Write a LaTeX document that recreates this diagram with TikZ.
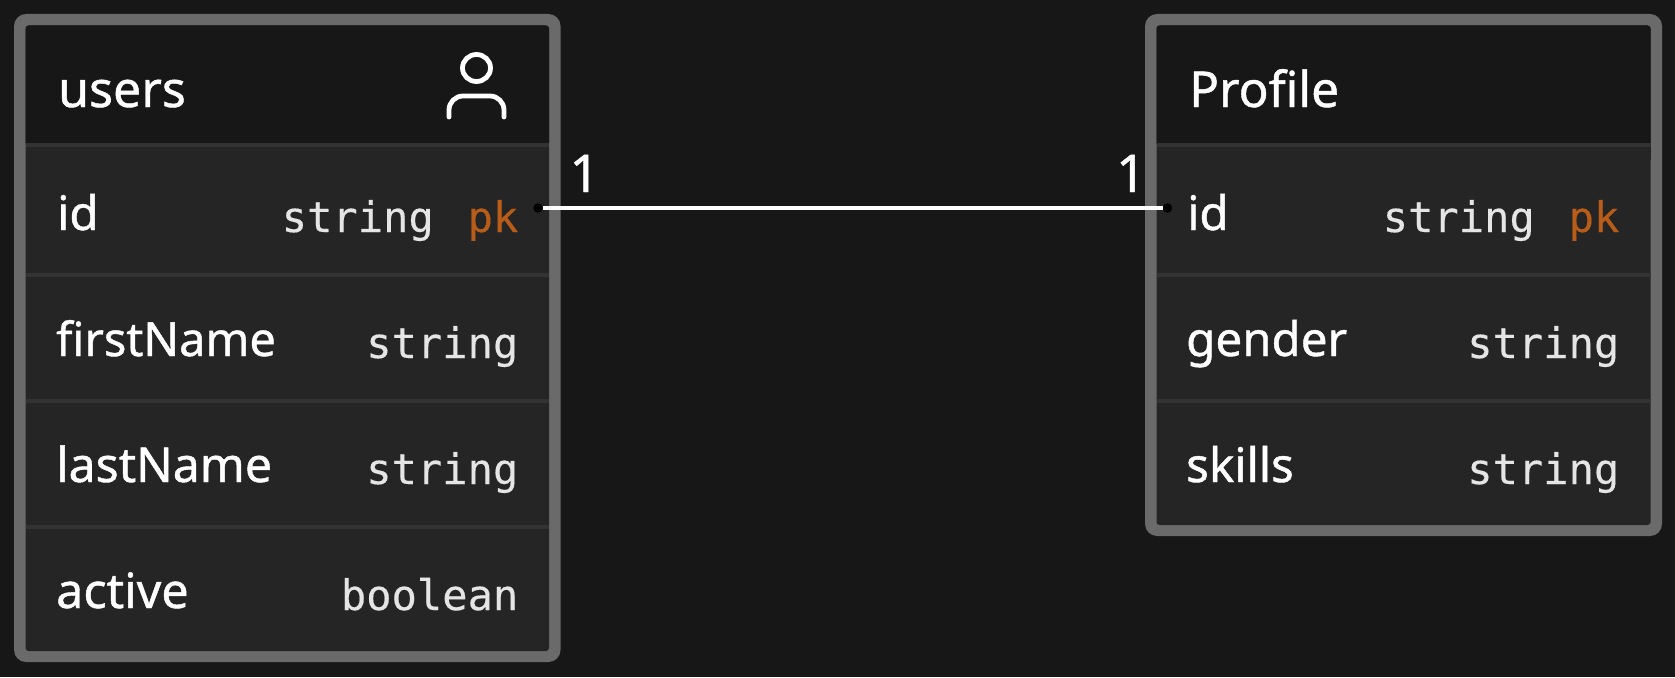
\documentclass[tikz,border=0pt]{standalone}
\usepackage{fontspec}
\setmainfont{Noto Sans}
\newfontfamily\namef[FakeBold=0.9]{Noto Sans}
\newfontfamily\monof[FakeBold=0.3]{DejaVu Sans Mono}
\definecolor{bgc}{HTML}{171717}
\definecolor{rowc}{HTML}{252525}
\definecolor{sepc}{HTML}{333333}
\definecolor{borderc}{HTML}{6A6A6A}
\definecolor{typec}{HTML}{E5E5E5}
\definecolor{pkc}{HTML}{B85C1A}
\tikzset{
  x=1pt,y=-1pt,
  namelbl/.style={anchor=base west,inner sep=0pt,text=white,font=\namef\fontsize{47.5}{48}\selectfont},
  namewide/.style={namelbl,font=\namef\fontsize{#1}{48}\selectfont},
  titlelbl/.style={namelbl,font=\namef\fontsize{50}{50}\selectfont},
  typelbl/.style={anchor=base east,inner sep=0pt,text=typec,font=\monof\fontsize{42.1}{42}\selectfont},
  pklbl/.style={typelbl,text=pkc},
  numlbl/.style={anchor=base,inner sep=0pt,text=white,font=\namef\fontsize{52}{52}\selectfont},
  outerbox/.style={fill=borderc,rounded corners=12pt},
  innerbox/.style={fill=rowc,rounded corners=3pt},
  headbox/.style={fill=bgc,rounded corners=3pt},
  sepline/.style={draw=sepc,line width=4pt},
  dotnode/.style={circle,fill=black,minimum size=9.5pt,inner sep=0pt},
  relline/.style={draw=white,line width=4pt},
  icon/.style={draw=white,line width=4.8pt,line cap=round}
}
\begin{document}
\begin{tikzpicture}
\useasboundingbox (0,0) rectangle (1675,677);
\fill[bgc] (0,0) rectangle (1675,677);
% left table
\fill[outerbox] (14,14) rectangle (560.5,662);
\fill[innerbox] (25.5,25.5) rectangle (549,651);
\fill[headbox] (25.5,25.5) rectangle (549,146);
\fill[rowc] (25.5,146) rectangle (549,160);
\draw[sepline] (25.5,145) -- (549,145);
\draw[sepline] (25.5,275) -- (549,275);
\draw[sepline] (25.5,401) -- (549,401);
\draw[sepline] (25.5,527) -- (549,527);
% right table
\fill[outerbox] (1145,14) rectangle (1662,536);
\fill[innerbox] (1156.5,25.5) rectangle (1650.5,525);
\fill[headbox] (1156.5,25.5) rectangle (1650.5,146);
\fill[rowc] (1156.5,146) rectangle (1650.5,160);
\draw[sepline] (1156.5,145) -- (1650.5,145);
\draw[sepline] (1156.5,275) -- (1650.5,275);
\draw[sepline] (1156.5,401) -- (1650.5,401);
% icon
\draw[icon] (476.5,68) ellipse (14 and 13.5);
\draw[icon,rounded corners=14pt] (449,117) -- (449,96) -- (504,96) -- (504,117);
% left text
\node[titlelbl] (utitle) at (58,107) {users};
\node[namelbl] (uid) at (57,230) {id};
\node[pklbl] (upk) at (518.5,232) {pk};
\node[typelbl] (uidt) at (434,232) {string};
\node[namewide=47] (ufn) at (56,356) {firstName};
\node[typelbl] (ufnt) at (518.5,358) {string};
\node[namewide=48.2] (uln) at (56,482) {lastName};
\node[namewide=48.5] (uac) at (56,608) {active};
\node[typelbl] (ulnt) at (518.5,484) {string};
\node[typelbl] (uact) at (518.5,610) {boolean};
% right text
\node[namewide=49.5] (ptitle) at (1189,107) {Profile};
\node[namelbl] (pid) at (1187,230) {id};
\node[pklbl] (ppk) at (1619.5,232) {pk};
\node[typelbl] (pidt) at (1535,232) {string};
\node[namelbl] (pge) at (1186,356) {gender};
\node[typelbl] (pget) at (1619.5,358) {string};
\node[namelbl] (psk) at (1186,482) {skills};
\node[typelbl] (pskt) at (1619.5,484) {string};
% relation
\node[dotnode] (d1) at (538,208) {};
\node[dotnode] (d2) at (1167.5,208) {};
\draw[relline] (d1) -- (d2);
\node[numlbl] (n1) at (584.5,192) {1};
\node[numlbl] (n2) at (1131,192) {1};
\end{tikzpicture}
\end{document}
